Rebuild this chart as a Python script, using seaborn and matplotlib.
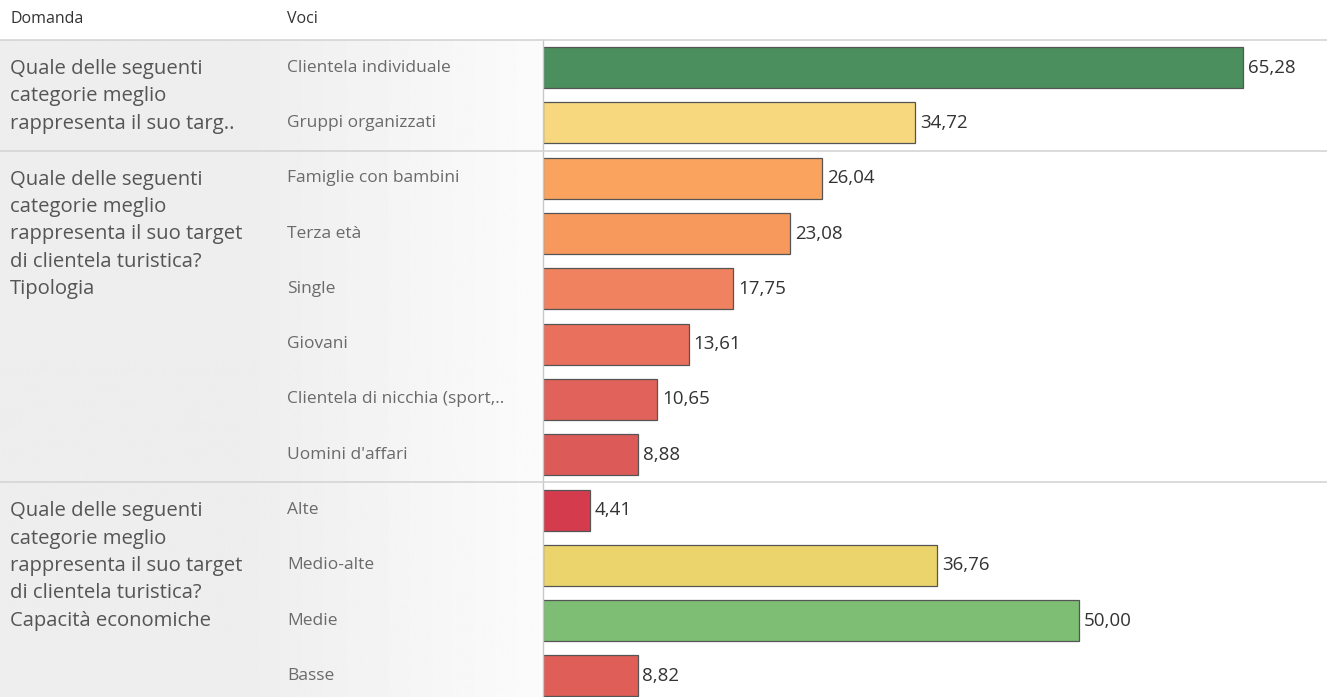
import matplotlib
matplotlib.use("Agg")
import matplotlib.pyplot as plt
import seaborn as sns
import numpy as np
import pandas as pd
from matplotlib.lines import Line2D

# ---------------- data ----------------
questions = [
    "Quale delle seguenti\ncategorie meglio\nrappresenta il suo targ..",
    "Quale delle seguenti\ncategorie meglio\nrappresenta il suo target\ndi clientela turistica?\nTipologia",
    "Quale delle seguenti\ncategorie meglio\nrappresenta il suo target\ndi clientela turistica?\nCapacità economiche",
]
group_sizes = [2, 6, 4]
voci = [
    "Clientela individuale", "Gruppi organizzati",
    "Famiglie con bambini", "Terza età", "Single", "Giovani",
    "Clientela di nicchia (sport,..", "Uomini d'affari",
    "Alte", "Medio-alte", "Medie", "Basse",
]
values = [65.28, 34.72, 26.04, 23.08, 17.75, 13.61, 10.65, 8.88, 4.41, 36.76, 50.00, 8.82]
bar_colors = [
    "#4b8f5e", "#f7d87e",
    "#f9a35f", "#f7995c", "#f08260", "#e8705c", "#e0625a", "#dc5a58",
    "#d43c4e", "#ebd46c", "#7dbd74", "#df5e58",
]
header_left = "Domanda"
header_mid = "Voci"

# ---------------- layout ----------------
W, H = 1327, 697
fig = plt.figure(figsize=(W / 100, H / 100), dpi=100)
fig.patch.set_facecolor("white")

top_px = 40
axis_x_px = 543
plot_h_px = H - top_px
row_h = 55.3

# background gradient for the label panel
bg = fig.add_axes([0, 0, axis_x_px / W, plot_h_px / H])
grad = np.linspace(0.93, 0.985, 256)[None, :]
grad = np.hstack([np.full((1, 200), 0.93), grad])
bg.imshow(grad, aspect="auto", cmap="gray", vmin=0, vmax=1, extent=[0, 1, 0, 1])
bg.set_axis_off()

ax = fig.add_axes([axis_x_px / W, 0, (W - axis_x_px) / W, plot_h_px / H])
px_per_unit = 700 / 65.28
ax.set_xlim(0, (W - axis_x_px) / px_per_unit)

df = pd.DataFrame({"voce": voci, "value": values})
sns.barplot(data=df, x="value", y="voce", hue="voce", palette=bar_colors,
            order=voci, hue_order=voci, legend=False, width=0.74,
            edgecolor="#555555", linewidth=0.9, saturation=1, ax=ax)
ax.set_ylim(-0.5 + plot_h_px / row_h, -0.5)
ax.set_xlabel("")
ax.set_ylabel("")
ax.set_xticks([])
ax.set_yticks([])
for s in ["top", "right", "bottom"]:
    ax.spines[s].set_visible(False)
ax.spines["left"].set_color("#c8c8c8")
ax.spines["left"].set_linewidth(1.0)
ax.set_facecolor("none")

font = "Open Sans"
# value labels
for i, v in enumerate(values):
    ax.text(v + 0.45, i, f"{v:.2f}".replace(".", ","), va="center", ha="left",
            fontsize=13.5, color="#333333", family=font)

# voci labels
trans = matplotlib.transforms.blended_transform_factory(fig.transFigure, ax.transData)
for i, lab in enumerate(voci):
    ax.text(287 / W, i, lab, transform=trans, va="center", ha="left",
            fontsize=12.5, color="#6a6a6a", family=font)

# question labels and separators
start = 0
for q, n in zip(questions, group_sizes):
    y_top_px = top_px + start * row_h + 19
    fig.text(10 / W, 1 - y_top_px / H, q, va="top", ha="left", fontsize=14.6,
             color="#555555", family=font, linespacing=1.49)
    if start > 0:
        y = 1 - (top_px + start * row_h) / H
        fig.add_artist(Line2D([0, 1], [y, y], transform=fig.transFigure,
                              color="#d4d4d4", linewidth=1.2))
    start += n

# header
fig.text(10 / W, 1 - 19 / H, header_left, va="center", ha="left", fontsize=11.5,
         color="#333333", family=font)
fig.text(287 / W, 1 - 19 / H, header_mid, va="center", ha="left", fontsize=11.5,
         color="#333333", family=font)
fig.add_artist(Line2D([0, 1], [1 - top_px / H] * 2, transform=fig.transFigure,
                      color="#d4d4d4", linewidth=1.2))

fig.savefig("out.png", dpi=100)
